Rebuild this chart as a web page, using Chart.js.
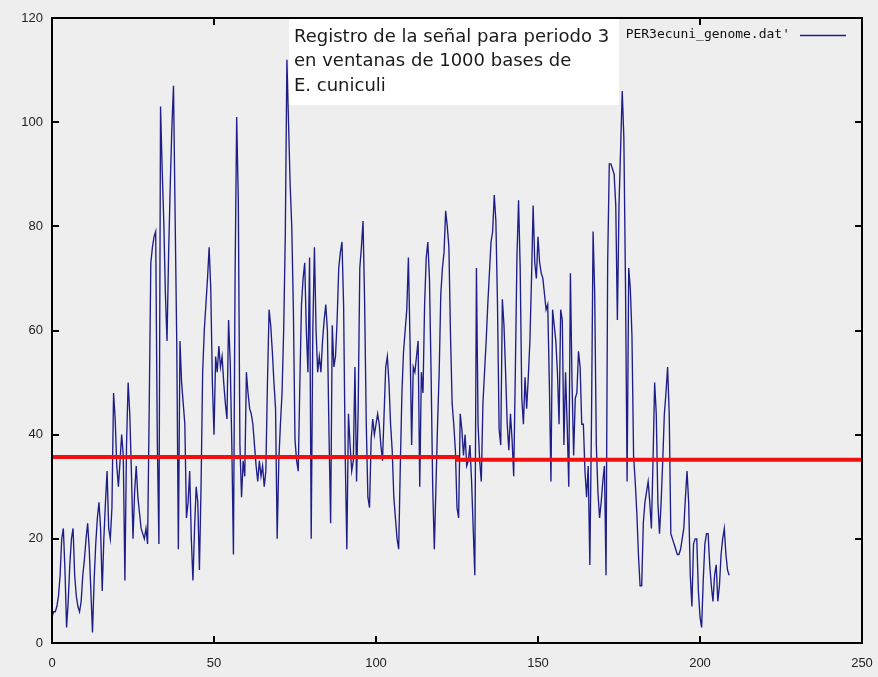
<!DOCTYPE html>
<html>
<head>
<meta charset="utf-8">
<script src="https://cdn.jsdelivr.net/npm/chart.js@4/dist/chart.umd.min.js"></script>
<style>
  html, body { margin: 0; padding: 0; background: #eeeeee; }
  #wrap { width: 878px; height: 677px; }
</style>
</head>
<body>
<div id="wrap"><canvas id="chart" width="878" height="677"></canvas></div>
<script>
// Period-3 signal per 1000-base window, sampled every half unit along x.
const STEP = 0.5;
const signal000 = [
  5, 6, 6, 7, 9, 13, 20, 22, 14, 3, 8, 15, 20, 22, 13, 9, 7, 6, 8, 13,
  16, 20, 23, 18, 10, 2, 12, 19, 24, 27, 22, 10, 20, 27, 33, 22, 20, 26, 48, 43,
  34, 30, 35, 40, 36, 12, 38, 50, 44, 33, 20, 29, 34, 28, 25, 22, 21, 20, 22, 19,
  45, 73, 76, 78, 79, 39, 19, 103, 91, 81, 67, 58, 75, 88, 99, 107, 82, 58, 18, 58,
  50, 46, 42, 24, 27, 33, 20, 12, 22, 30, 27, 14, 30, 52, 60, 65, 70, 76, 68, 50
];
const signal050 = [
  40, 55, 52, 57, 53, 55, 50, 46, 43, 62, 54, 38, 17, 70, 101, 85, 38, 28, 35, 32,
  52, 48, 45, 44, 42, 38, 34, 31, 35, 32, 34, 30, 33, 50, 64, 61, 56, 50, 45, 20,
  35, 42, 48, 60, 78, 112, 100, 88, 80, 64, 39, 35, 33, 50, 65, 70, 73, 60, 52, 74,
  20, 60, 76, 60, 52, 55, 52, 58, 62, 65, 60, 40, 23, 61, 53, 55, 62, 72, 75, 77,
  65, 36, 18, 44, 38, 33, 35, 53, 31, 45, 72, 76, 81, 65, 42, 28, 26, 39, 43, 40
];
const signal100 = [
  42, 44, 42, 38, 35, 44, 53, 55, 50, 42, 37, 28, 24, 20, 18, 34, 48, 56, 60, 64,
  74, 58, 38, 53, 52, 55, 58, 30, 52, 48, 65, 74, 77, 70, 52, 30, 18, 30, 42, 52,
  67, 72, 75, 83, 80, 76, 59, 46, 42, 37, 26, 24, 44, 41, 36, 40, 34, 35, 38, 31,
  22, 13, 72, 42, 35, 31, 46, 52, 58, 65, 71, 77, 79, 86, 81, 65, 41, 38, 66, 61,
  52, 42, 37, 44, 39, 32, 52, 74, 85, 72, 47, 42, 51, 45, 51, 58, 70, 84, 73, 70
];
const signal150 = [
  78, 73, 71, 70, 67, 64, 65, 50, 31, 64, 61, 58, 52, 42, 64, 62, 38, 52, 42, 30,
  71, 50, 36, 47, 48, 56, 53, 42, 42, 33, 28, 34, 15, 42, 79, 67, 38, 29, 24, 27,
  31, 34, 13, 73, 92, 92, 91, 90, 84, 62, 84, 95, 106, 97, 69, 31, 72, 68, 59, 36,
  31, 25, 17, 11, 11, 23, 27, 29, 31, 27, 22, 35, 50, 44, 27, 21, 27, 35, 44, 48,
  53, 44, 21, 20, 19, 18, 17, 17, 18, 20, 22, 28, 33, 27, 13, 7, 19, 20, 20, 10
];
const signal200 = [
  5, 3, 12, 19, 21, 21, 15, 11, 8, 13, 15, 8, 11, 17, 20, 22, 17, 14, 13
];

// Mean level of the signal, first and second half of the record.
const meanLevels = [35.7, 35.2];
const meanBreakX = 125;

const xRange = [0, 250];
const yRange = [0, 120];
const xTickStep = 50;
const yTickStep = 20;

const seriesLabel = "PER3ecuni_genome.dat'";
const noteLines = [
  'Registro de la señal para periodo 3',
  'en ventanas de 1000 bases de',
  'E. cuniculi'
];

const signal = [].concat(signal000, signal050, signal100, signal150, signal200);
const signalPoints = signal.map((v, i) => ({ x: i * STEP, y: v }));
const meanPoints = [
  { x: xRange[0], y: meanLevels[0] },
  { x: meanBreakX, y: meanLevels[0] },
  { x: meanBreakX, y: meanLevels[1] },
  { x: xRange[1], y: meanLevels[1] }
];

const BLUE = '#1e1e88';
const RED = '#f01010';
const TICK_FONT = '"Liberation Sans Narrow", "Liberation Sans", sans-serif';

// Frame with inward ticks on all four sides, the note box and the key.
const decorations = {
  id: 'decorations',
  beforeDraw(chart) {
    const ctx = chart.ctx;
    ctx.save();
    ctx.fillStyle = '#eeeeee';
    ctx.fillRect(0, 0, chart.width, chart.height);
    ctx.restore();
  },
  afterDatasetsDraw(chart) {
    const ctx = chart.ctx;
    const a = chart.chartArea;
    const xs = chart.scales.x, ys = chart.scales.y;
    ctx.save();

    // ticks
    ctx.strokeStyle = '#000';
    ctx.lineWidth = 2;
    const tl = 7;
    ctx.beginPath();
    for (let v = yRange[0] + yTickStep; v < yRange[1]; v += yTickStep) {
      const py = Math.round(ys.getPixelForValue(v));
      ctx.moveTo(a.left, py); ctx.lineTo(a.left + tl, py);
      ctx.moveTo(a.right, py); ctx.lineTo(a.right - tl, py);
    }
    for (let v = xRange[0] + xTickStep; v < xRange[1]; v += xTickStep) {
      const px = Math.round(xs.getPixelForValue(v));
      ctx.moveTo(px, a.bottom); ctx.lineTo(px, a.bottom - tl);
      ctx.moveTo(px, a.top); ctx.lineTo(px, a.top + tl);
    }
    ctx.stroke();

    // frame
    ctx.lineWidth = 2;
    ctx.strokeRect(a.left, a.top, a.right - a.left, a.bottom - a.top);

    // note box
    ctx.fillStyle = '#ffffff';
    ctx.fillRect(289, a.top + 1, 330, 86);
    ctx.fillStyle = '#1a1a1a';
    ctx.font = '18px "DejaVu Sans"';
    ctx.textBaseline = 'middle';
    ctx.textAlign = 'left';
    noteLines.forEach((t, i) => ctx.fillText(t, 294, 37 + i * 24.5));

    // key
    ctx.font = '13px "DejaVu Sans Mono"';
    ctx.fillStyle = '#111';
    ctx.textAlign = 'right';
    ctx.fillText(seriesLabel, 790, 35);
    ctx.strokeStyle = BLUE;
    ctx.lineWidth = 1.3;
    ctx.beginPath();
    ctx.moveTo(800, 35.5); ctx.lineTo(846, 35.5);
    ctx.stroke();

    ctx.restore();
  }
};

new Chart(document.getElementById('chart'), {
  type: 'line',
  data: {
    datasets: [
      {
        label: 'media',
        data: meanPoints,
        borderColor: RED,
        borderWidth: 4,
        pointRadius: 0,
        tension: 0,
        order: 0
      },
      {
        label: seriesLabel,
        data: signalPoints,
        borderColor: BLUE,
        borderWidth: 1.35,
        pointRadius: 0,
        tension: 0,
        order: 1
      }
    ]
  },
  options: {
    responsive: false,
    animation: false,
    devicePixelRatio: 1,
    layout: { padding: { top: 18, right: 16, left: 0, bottom: 0 } },
    plugins: { legend: { display: false }, tooltip: { enabled: false } },
    scales: {
      x: {
        type: 'linear',
        min: xRange[0], max: xRange[1],
        grid: { display: false, drawTicks: false },
        border: { display: false },
        ticks: {
          stepSize: xTickStep,
          padding: 13,
          color: '#222',
          font: { family: TICK_FONT, size: 13 },
          maxRotation: 0
        },
        afterFit(s) { s.height = 34; s.paddingLeft = 0; s.paddingRight = 0; }
      },
      y: {
        type: 'linear',
        min: yRange[0], max: yRange[1],
        grid: { display: false, drawTicks: false },
        border: { display: false },
        ticks: {
          stepSize: yTickStep,
          padding: 9,
          color: '#222',
          font: { family: TICK_FONT, size: 13 }
        },
        afterFit(s) { s.width = 52; s.paddingTop = 0; s.paddingBottom = 0; }
      }
    }
  },
  plugins: [decorations]
});
</script>
</body>
</html>
